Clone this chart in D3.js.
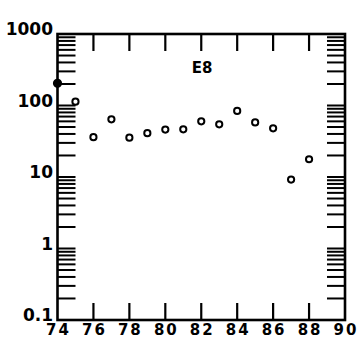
<!DOCTYPE html>
<html><head><meta charset="utf-8">
<script src="https://cdn.jsdelivr.net/npm/d3@7"></script>
<style>html,body{margin:0;padding:0;background:#fff;}svg{display:block;}</style>
</head><body>
<svg id="c" width="362" height="340"></svg>
<script>
const years = [74,75,76,77,78,79,80,81,82,83,84,85,86,87,88];
const values = [204,113,36,64,35.5,41,46,46.5,60,54.6,84,58,48,9.2,17.7];
const filled = [true,false,false,false,false,false,false,false,false,false,false,false,false,false,false];
const xTicks = [74,76,78,80,82,84,86,88,90];
const yTicks = [0.1,1,10,100,1000];
const yTickLabels = ["0.1","1","10","100","1000"];
const title = "E8";

const svg = d3.select("#c");
const L=57.5, R=345, T=34, B=320;
const x = d3.scaleLinear().domain([74,90]).range([L,R]);
const y = d3.scaleLog().domain([0.1,1000]).range([B,T]);
const font = "'DejaVu Sans', sans-serif";

const minor = [];
for (let e=-1; e<3; e++) for (let m=1; m<=9; m++) minor.push(m*Math.pow(10,e));
minor.push(1000);
const tl = 18;
const g = svg.append("g").attr("stroke","#000").attr("fill","none");
g.selectAll(".ml").data(minor).join("line")
  .attr("x1",L).attr("x2",L+tl).attr("y1",d=>y(d)).attr("y2",d=>y(d)).attr("stroke-width",2);
g.selectAll(".mr").data(minor).join("line")
  .attr("x1",R).attr("x2",R-tl).attr("y1",d=>y(d)).attr("y2",d=>y(d)).attr("stroke-width",2);
const inner = xTicks.filter(d=>d>74&&d<90);
g.selectAll(".xb").data(inner).join("line")
  .attr("x1",d=>x(d)).attr("x2",d=>x(d)).attr("y1",B).attr("y2",B-17).attr("stroke-width",2.2);
g.selectAll(".xt").data(inner).join("line")
  .attr("x1",d=>x(d)).attr("x2",d=>x(d)).attr("y1",T).attr("y2",T+17).attr("stroke-width",2.2);
g.append("rect").attr("x",L).attr("y",T).attr("width",R-L).attr("height",B-T).attr("stroke-width",2.6);

svg.selectAll(".yl").data(yTicks).join("text")
  .attr("x",53).attr("y",d=>y(d)+1).attr("text-anchor","end")
  .attr("font-family",font).attr("font-weight","bold").attr("font-size",17)
  .text((d,i)=>yTickLabels[i]);
svg.selectAll(".xl").data(xTicks).join("text")
  .attr("x",d=>x(d)+1).attr("y",335).attr("text-anchor","middle")
  .attr("font-family",font).attr("font-weight","bold").attr("font-size",15)
  .attr("letter-spacing",2)
  .text(d=>d);
svg.append("text").attr("x",202).attr("y",73).attr("text-anchor","middle")
  .attr("font-family",font).attr("font-weight","bold").attr("font-size",15).text(title);

svg.selectAll(".pt").data(years).join("circle")
  .attr("cx",d=>x(d)).attr("cy",(d,i)=>y(values[i]))
  .attr("r",(d,i)=>filled[i]?3.6:3.1)
  .attr("fill",(d,i)=>filled[i]?"#000":"#fff")
  .attr("stroke","#000").attr("stroke-width",2);
</script>
</body></html>
